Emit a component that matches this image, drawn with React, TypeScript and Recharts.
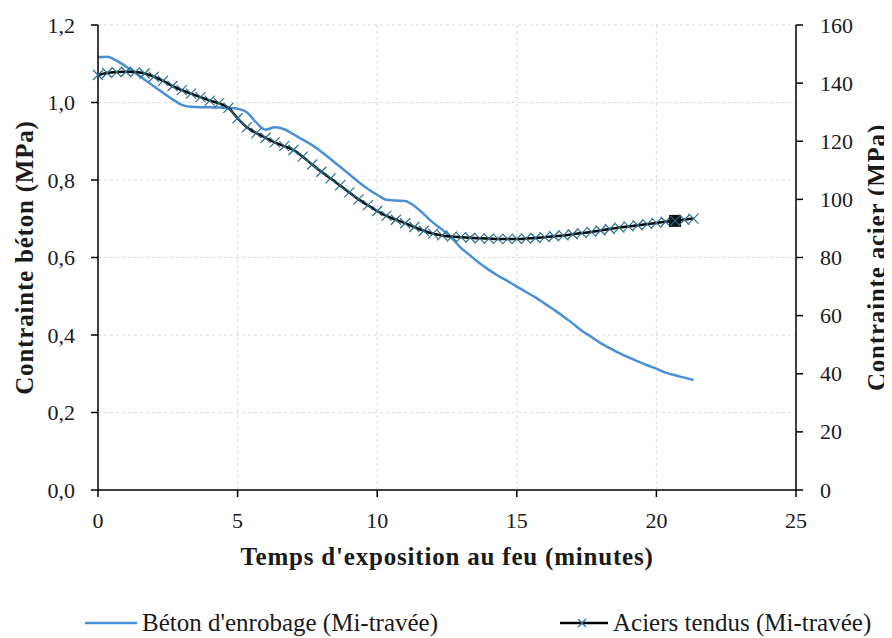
import React from 'react';
import {
  LineChart, Line, XAxis, YAxis, CartesianGrid, Legend
} from 'recharts';

// temps (minutes), pas de 20 s
const times = [
  0, 0.33, 0.67, 1, 1.33, 1.67, 2, 2.33, 2.67, 3, 3.33, 3.67, 4, 4.33, 4.67, 5,
  5.33, 5.67, 6, 6.33, 6.67, 7, 7.33, 7.67, 8, 8.33, 8.67, 9, 9.33, 9.67, 10,
  10.33, 10.67, 11, 11.33, 11.67, 12, 12.33, 12.67, 13, 13.33, 13.67, 14, 14.33,
  14.67, 15, 15.33, 15.67, 16, 16.33, 16.67, 17, 17.33, 17.67, 18, 18.33, 18.67,
  19, 19.33, 19.67, 20, 20.33, 20.67, 21, 21.33,
];

// Contrainte béton d'enrobage (MPa)
const beton = [
  1.117, 1.118, 1.108, 1.093, 1.077, 1.059, 1.042, 1.025, 1.008, 0.994, 0.989,
  0.988, 0.988, 0.987, 0.986, 0.984, 0.975, 0.948, 0.93, 0.936, 0.931, 0.918,
  0.904, 0.89, 0.873, 0.854, 0.834, 0.815, 0.795, 0.777, 0.762, 0.749, 0.747,
  0.746, 0.733, 0.712, 0.69, 0.672, 0.65, 0.625, 0.605, 0.585, 0.568, 0.553,
  0.539, 0.525, 0.511, 0.497, 0.481, 0.465, 0.448, 0.43, 0.411, 0.395, 0.379,
  0.366, 0.353, 0.342, 0.332, 0.322, 0.313, 0.303, 0.296, 0.29, 0.284,
];

// Contrainte aciers tendus (MPa)
const acier = [
  142.8, 143.5, 143.8, 143.9, 143.8, 143.3, 142.2, 140.8, 139.0, 137.6, 136.4,
  135.2, 134.0, 133.1, 131.5, 127.9, 124.8, 122.8, 121.2, 119.6, 118.3, 117.0,
  114.7, 112.0, 109.5, 107.2, 104.8, 102.4, 100.0, 98.0, 96.0, 94.3, 93.0, 91.8,
  90.5, 89.2, 88.2, 87.6, 87.2, 87.0, 86.8, 86.6, 86.5, 86.4, 86.4, 86.4, 86.5,
  86.7, 87.0, 87.3, 87.6, 88.0, 88.4, 88.8, 89.3, 89.8, 90.3, 90.7, 91.1, 91.5,
  91.9, 92.3, 92.6, 93.0, 93.4,
];

const highlightIndex = 62;

const xTicks = [0, 5, 10, 15, 20, 25];
const leftTicks = [0, 0.2, 0.4, 0.6, 0.8, 1.0, 1.2];
const rightTicks = [0, 20, 40, 60, 80, 100, 120, 140, 160];

const data = times.map((t, i) => ({ t, beton: beton[i], acier: acier[i] }));

const FONT = 'Liberation Serif';
const BLUE = '#4a90d9';
const CROSS = '#2a6f8f';
const INK = '#1a1a1a';

const CrossDot = (props: any) => {
  const { cx, cy, index } = props;
  if (cx == null || cy == null) return null;
  const s = 5;
  return (
    <g key={`d${index}`}>
      {index === highlightIndex && (
        <rect x={cx - 6} y={cy - 6} width={12} height={12} fill="#111" />
      )}
      <line x1={cx - s} y1={cy - s} x2={cx + s} y2={cy + s} stroke={CROSS} strokeWidth={1.2} />
      <line x1={cx - s} y1={cy + s} x2={cx + s} y2={cy - s} stroke={CROSS} strokeWidth={1.2} />
    </g>
  );
};

const LegendContent = () => (
  <div style={{ position: 'relative', height: 68, fontFamily: FONT, fontSize: 25, lineHeight: '29px', color: INK, whiteSpace: 'nowrap' }}>
    <div style={{ position: 'absolute', left: 77, top: 38, display: 'flex', alignItems: 'center' }}>
      <svg width={57} height={10}><line x1={0} y1={5} x2={52} y2={5} stroke={BLUE} strokeWidth={2.5} /></svg>
      <span>Béton d'enrobage (Mi-travée)</span>
    </div>
    <div style={{ position: 'absolute', left: 552, top: 38, display: 'flex', alignItems: 'center' }}>
      <svg width={53} height={12}>
        <line x1={0} y1={6} x2={48} y2={6} stroke="#000" strokeWidth={2.5} />
        <line x1={18} y1={2} x2={26} y2={10} stroke={CROSS} strokeWidth={1.2} />
        <line x1={18} y1={10} x2={26} y2={2} stroke={CROSS} strokeWidth={1.2} />
      </svg>
      <span>Aciers tendus (Mi-travée)</span>
    </div>
  </div>
);

const labelStyle = { fontFamily: FONT, fontSize: 25, fontWeight: 'bold', fill: INK, letterSpacing: 0.8 };

// tick text drawn by hand so the serif font is kept
const Tick = ({ x, y, payload, textAnchor, format }: any) => {
  const v = payload.value;
  const txt = format ? format(v) : String(v);
  const isX = textAnchor === 'middle';
  return (
    <text
      x={x}
      y={y}
      textAnchor={textAnchor}
      dominantBaseline={isX ? 'hanging' : 'central'}
      style={{ fontFamily: FONT, fontSize: 22, fill: INK }}
    >
      {txt}
    </text>
  );
};

const fmtComma = (v: number) => v.toFixed(1).replace('.', ',');

const SideLabel = ({ viewBox, value, dx }: any) => {
  const x = viewBox.x + dx;
  const y = viewBox.y + viewBox.height / 2;
  return (
    <text
      x={x}
      y={y}
      transform={`rotate(-90, ${x}, ${y})`}
      textAnchor="middle"
      dominantBaseline="central"
      style={labelStyle}
    >
      {value}
    </text>
  );
};

export default function App() {
  return (
    <div style={{ fontFamily: FONT }}>
      <LineChart width={884} height={630} data={data} margin={{ top: 17, right: 8, bottom: 0, left: 0 }}>
        <CartesianGrid stroke="#d9d9d9" strokeDasharray="3 3" yAxisId="left" />
        <XAxis
          dataKey="t"
          type="number"
          domain={[0, 25]}
          ticks={xTicks}
          height={80}
          tick={<Tick />}
          tickSize={7}
          tickMargin={15}
          axisLine={{ stroke: '#000', strokeWidth: 1.5 }}
          tickLine={{ stroke: '#000', strokeWidth: 1.5 }}
          label={{ value: "Temps d'exposition au feu (minutes)", position: 'insideBottom', offset: 5, style: labelStyle }}
        />
        <YAxis
          yAxisId="left"
          domain={[0, 1.2]}
          ticks={leftTicks}
          width={90}
          tick={<Tick format={fmtComma} />}
          tickSize={7}
          tickMargin={16}
          axisLine={{ stroke: '#000', strokeWidth: 1.5 }}
          tickLine={{ stroke: '#000', strokeWidth: 1.5 }}
          label={<SideLabel value="Contrainte béton (MPa)" dx={16} />}
        />
        <YAxis
          yAxisId="right"
          orientation="right"
          domain={[0, 160]}
          ticks={rightTicks}
          width={88}
          tick={<Tick />}
          tickSize={7}
          tickMargin={17}
          axisLine={{ stroke: '#000', strokeWidth: 1.5 }}
          tickLine={{ stroke: '#000', strokeWidth: 1.5 }}
          label={<SideLabel value="Contrainte acier (MPa)" dx={80} />}
        />
        <Legend verticalAlign="bottom" content={<LegendContent />} />
        <Line
          yAxisId="left"
          type="monotone"
          dataKey="beton"
          stroke={BLUE}
          strokeWidth={2.5}
          dot={false}
          isAnimationActive={false}
        />
        <Line
          yAxisId="right"
          type="monotone"
          dataKey="acier"
          stroke="#000"
          strokeWidth={2.5}
          dot={<CrossDot />}
          isAnimationActive={false}
        />
      </LineChart>
    </div>
  );
}
